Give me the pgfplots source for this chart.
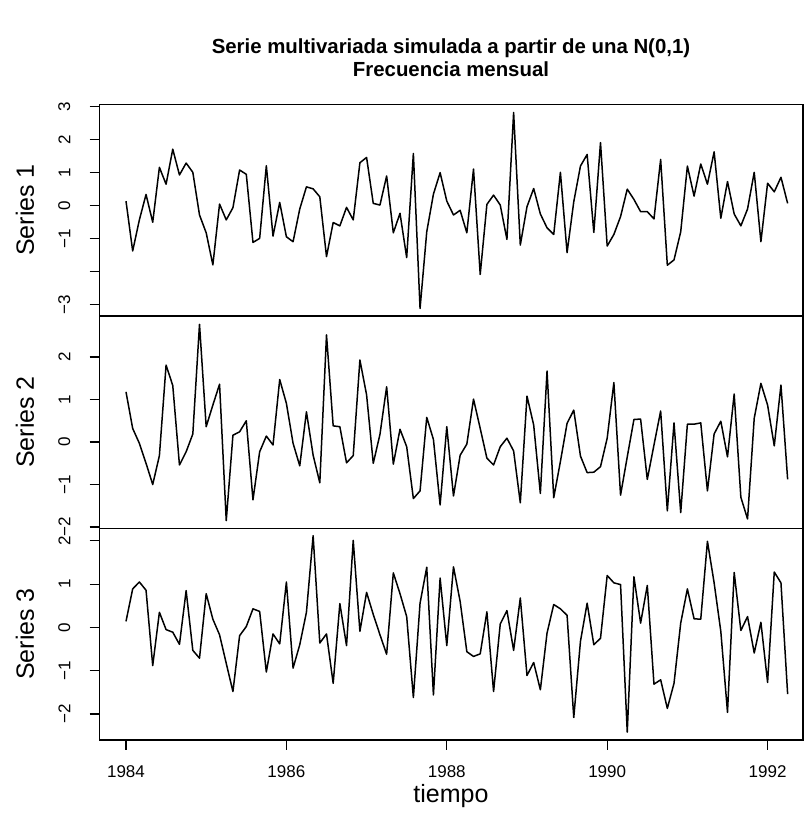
\documentclass[border=0pt]{standalone}
\usepackage{fontspec}
\setmainfont{Liberation Sans}
\usepackage{pgfplots}
\usepackage{pgfplotstable}
\pgfplotsset{compat=1.18}

% monthly values, Jan 1984 .. Apr 1992 (100 months)
\pgfplotstableread{
s1 s2 s3
0.14 1.18 0.14
-1.37 0.32 0.89
-0.43 -0.03 1.05
0.34 -0.50 0.86
-0.50 -1.00 -0.88
1.16 -0.32 0.35
0.65 1.81 -0.05
1.71 1.33 -0.11
0.93 -0.54 -0.39
1.29 -0.23 0.85
1.01 0.19 -0.53
-0.28 2.77 -0.71
-0.82 0.36 0.78
-1.79 0.87 0.19
0.05 1.36 -0.17
-0.43 -1.85 -0.83
-0.06 0.16 -1.48
1.08 0.24 -0.19
0.95 0.50 0.02
-1.11 -1.36 0.43
-0.99 -0.23 0.37
1.21 0.14 -1.03
-0.92 -0.07 -0.15
0.10 1.47 -0.38
-0.94 0.91 1.05
-1.09 -0.03 -0.94
-0.10 -0.56 -0.40
0.57 0.71 0.35
0.51 -0.31 2.12
0.27 -0.96 -0.36
-1.54 2.52 -0.15
-0.51 0.38 -1.29
-0.61 0.36 0.55
-0.05 -0.49 -0.42
-0.43 -0.32 2.01
1.30 1.93 -0.09
1.46 1.11 0.81
0.07 -0.50 0.30
0.02 0.18 -0.17
0.90 1.30 -0.62
-0.82 -0.52 1.26
-0.23 0.30 0.78
-1.57 -0.11 0.25
1.58 -1.33 -1.62
-3.11 -1.15 0.56
-0.79 0.58 1.39
0.35 0.06 -1.56
1.00 -1.48 1.14
0.14 0.36 -0.42
-0.28 -1.27 1.40
-0.14 -0.31 0.60
-0.82 -0.05 -0.56
1.11 1.01 -0.67
-2.08 0.32 -0.61
0.04 -0.38 0.36
0.32 -0.54 -1.48
0.02 -0.11 0.08
-1.02 0.09 0.39
2.82 -0.21 -0.53
-1.19 -1.43 0.68
-0.03 1.08 -1.11
0.52 0.40 -0.81
-0.25 -1.21 -1.44
-0.67 1.67 -0.13
-0.87 -1.31 0.53
1.01 -0.46 0.43
-1.42 0.44 0.28
0.12 0.75 -2.08
1.20 -0.33 -0.32
1.55 -0.72 0.56
-0.81 -0.71 -0.40
1.91 -0.58 -0.25
-1.22 0.09 1.20
-0.87 1.40 1.03
-0.33 -1.25 0.99
0.50 -0.35 -2.42
0.19 0.53 1.17
-0.18 0.54 0.10
-0.18 -0.88 0.97
-0.40 -0.07 -1.31
1.40 0.73 -1.21
-1.80 -1.62 -1.87
-1.64 0.45 -1.29
-0.79 -1.66 0.10
1.20 0.42 0.89
0.29 0.42 0.20
1.26 0.45 0.19
0.65 -1.15 1.99
1.63 0.19 1.03
-0.38 0.49 -0.09
0.73 -0.35 -1.96
-0.25 1.13 1.27
-0.61 -1.30 -0.07
-0.10 -1.81 0.25
1.01 0.56 -0.59
-1.09 1.38 0.12
0.68 0.87 -1.27
0.42 -0.09 1.28
0.86 1.34 1.03
0.07 -0.88 -1.54
}\seriesdata

\pgfplotsset{
  panel/.style={
    scale only axis, width=703.5pt, anchor=south west,
    xmin=1983.6696, xmax=1992.4414,
    axis line style={line width=1.2pt},
    tick style={line width=1.2pt, black},
    major tick length=10pt,
    tick align=outside,
    xtick pos=bottom, ytick pos=left,
    yticklabel style={inner sep=0pt, xshift=-19pt, font=\fontsize{17}{17}\selectfont},
    xticklabel style={inner sep=0pt, yshift=-15pt, font=\fontsize{17}{17}\selectfont},
  },
  ser/.style={black, line width=1.5pt, line join=round, mark=none},
}

% tick labels on the y axes read upwards
\newcommand\rl[1]{\rotatebox{90}{#1}}

\begin{document}
\begin{tikzpicture}
\path[use as bounding box] (0pt,0pt) rectangle (804pt,828pt);

\begin{axis}[panel, at={(99.5pt,512pt)}, height=211.5pt,
  ymin=-3.337, ymax=3.062, xtick=\empty,
  ytick={-3,-2,-1,0,1,2,3},
  yticklabels={\rl{−3},,\rl{−1},\rl{0},\rl{1},\rl{2},\rl{3}}]
\addplot[ser] table[x expr=1984+\coordindex/12, y=s1] {\seriesdata};
\end{axis}

\begin{axis}[panel, at={(99.5pt,299.7pt)}, height=212.3pt,
  ymin=-2.03, ymax=2.965, xtick=\empty,
  ytick={-2,-1,0,1,2},
  yticklabels={\rl{−2},\rl{−1},\rl{0},\rl{1},\rl{2}}]
\addplot[ser] table[x expr=1984+\coordindex/12, y=s2] {\seriesdata};
\end{axis}

\begin{axis}[panel, at={(99.5pt,88pt)}, height=211.7pt,
  ymin=-2.60, ymax=2.29,
  xtick={1984,1986,1988,1990,1992},
  xticklabels={1984,1986,1988,1990,1992},
  ytick={-2,-1,0,1,2},
  yticklabels={\rl{−2},\rl{−1},\rl{0},\rl{1},\rl{2}}]
\addplot[ser] table[x expr=1984+\coordindex/12, y=s3] {\seriesdata};
\end{axis}

% panel labels
\node[font=\fontsize{25}{25}\selectfont, rotate=90, anchor=center] at (25pt,618pt) {Series 1};
\node[font=\fontsize{25}{25}\selectfont, rotate=90, anchor=center] at (25pt,406pt) {Series 2};
\node[font=\fontsize{25}{25}\selectfont, rotate=90, anchor=center] at (25pt,194pt) {Series 3};

\node[font=\fontsize{25}{25}\selectfont, anchor=base] at (451pt,25pt) {tiempo};
\node[font=\bfseries\fontsize{20.4}{20.4}\selectfont, anchor=base] at (451pt,774pt)
  {Serie multivariada simulada a partir de una N(0,1)};
\node[font=\bfseries\fontsize{20.4}{20.4}\selectfont, anchor=base] at (451pt,751pt)
  {Frecuencia mensual};
\end{tikzpicture}
\end{document}
